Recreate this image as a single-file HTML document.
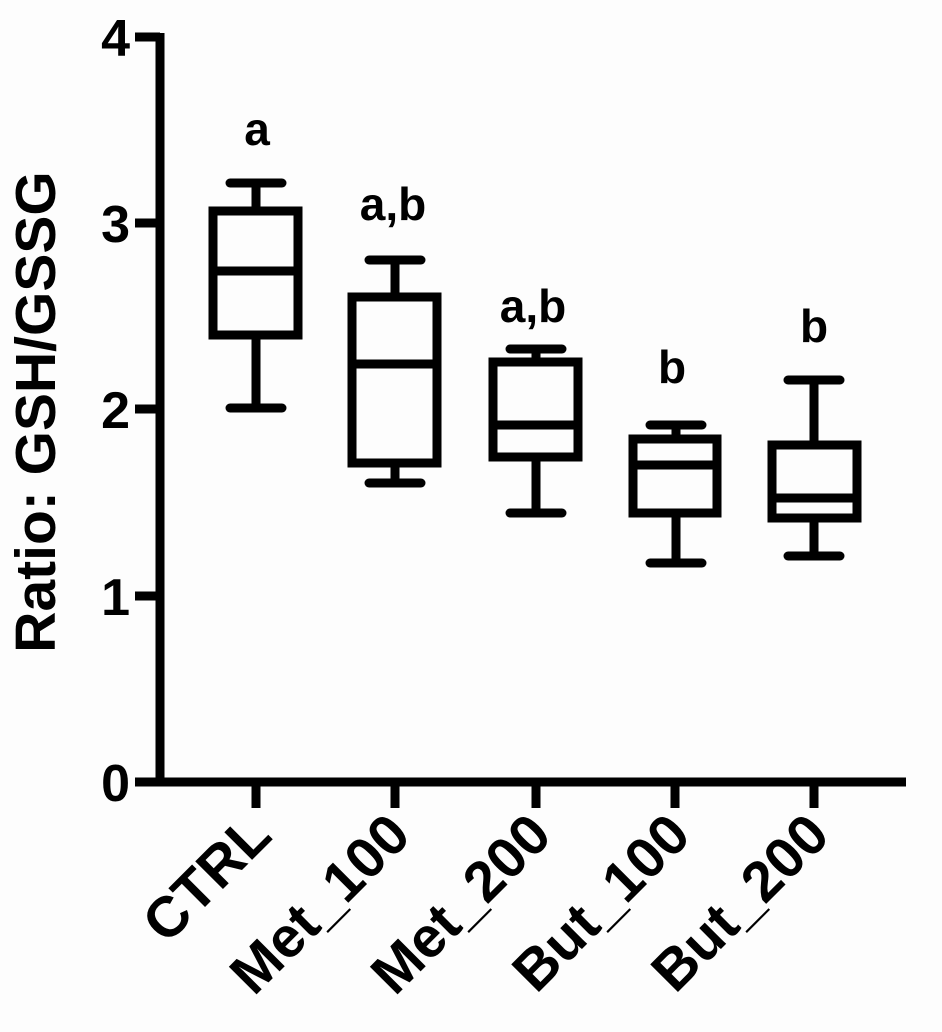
<!DOCTYPE html>
<html><head><style>body{margin:0;background:#fff}</style></head><body>
<svg width="942" height="1032" viewBox="0 0 942 1032" xmlns="http://www.w3.org/2000/svg" style="display:block">
<rect width="942" height="1032" fill="#fdfdfd"/>
<g stroke="#000" stroke-width="9" fill="none">
<line x1="160" y1="33" x2="160" y2="786"/>
<line x1="156" y1="782" x2="906" y2="782"/>
<line x1="135" y1="37" x2="160" y2="37"/>
<line x1="135" y1="223" x2="160" y2="223"/>
<line x1="135" y1="409" x2="160" y2="409"/>
<line x1="135" y1="596" x2="160" y2="596"/>
<line x1="135" y1="782" x2="160" y2="782"/>
<line x1="256" y1="782" x2="256" y2="808"/>
<line x1="395" y1="782" x2="395" y2="808"/>
<line x1="536" y1="782" x2="536" y2="808"/>
<line x1="675" y1="782" x2="675" y2="808"/>
<line x1="814" y1="782" x2="814" y2="808"/>
</g>
<g stroke="#000" stroke-width="9" fill="none" stroke-linecap="round">
<rect x="213" y="211" width="85" height="124"/>
<line x1="213" y1="271" x2="298" y2="271"/>
<line x1="256" y1="183" x2="256" y2="211"/><line x1="256" y1="335" x2="256" y2="408"/>
<line x1="230" y1="183" x2="282" y2="183"/><line x1="230" y1="408" x2="282" y2="408"/>
<rect x="352" y="297" width="85" height="166"/>
<line x1="352" y1="364" x2="437" y2="364"/>
<line x1="395" y1="260" x2="395" y2="297"/><line x1="395" y1="463" x2="395" y2="483"/>
<line x1="369" y1="260" x2="421" y2="260"/><line x1="369" y1="483" x2="421" y2="483"/>
<rect x="493" y="362" width="85" height="95"/>
<line x1="493" y1="425" x2="578" y2="425"/>
<line x1="536" y1="349" x2="536" y2="362"/><line x1="536" y1="457" x2="536" y2="513"/>
<line x1="510" y1="349" x2="562" y2="349"/><line x1="510" y1="513" x2="562" y2="513"/>
<rect x="633" y="439" width="84" height="74"/>
<line x1="633" y1="465" x2="717" y2="465"/>
<line x1="676" y1="425" x2="676" y2="439"/><line x1="676" y1="513" x2="676" y2="563"/>
<line x1="650" y1="425" x2="702" y2="425"/><line x1="650" y1="563" x2="702" y2="563"/>
<rect x="772" y="445" width="85" height="73"/>
<line x1="772" y1="498" x2="857" y2="498"/>
<line x1="814" y1="380" x2="814" y2="445"/><line x1="814" y1="518" x2="814" y2="556"/>
<line x1="788" y1="380" x2="840" y2="380"/><line x1="788" y1="556" x2="840" y2="556"/>
</g>
<g font-family="Liberation Sans, Arial, sans-serif" font-weight="bold" fill="#000">
<g font-size="52" text-anchor="end">
<text x="130" y="56">4</text><text x="130" y="242">3</text><text x="130" y="428">2</text><text x="130" y="615">1</text><text x="130" y="801">0</text>
</g>
<text transform="translate(55,412) rotate(-90)" font-size="57" text-anchor="middle">Ratio: GSH/GSSG</text>
<g font-size="46" text-anchor="middle">
<text x="257" y="145">a</text><text x="393" y="220">a,b</text><text x="533" y="322">a,b</text><text x="672" y="383">b</text><text x="814" y="342">b</text>
</g>
<g font-size="57" text-anchor="end">
<text transform="translate(274,838) rotate(-45)">CTRL</text>
<text transform="translate(413,838) rotate(-45)">Met_100</text>
<text transform="translate(554,838) rotate(-45)">Met_200</text>
<text transform="translate(693,838) rotate(-45)">But_100</text>
<text transform="translate(832,838) rotate(-45)">But_200</text>
</g>
</g>
</svg>
</body></html>
